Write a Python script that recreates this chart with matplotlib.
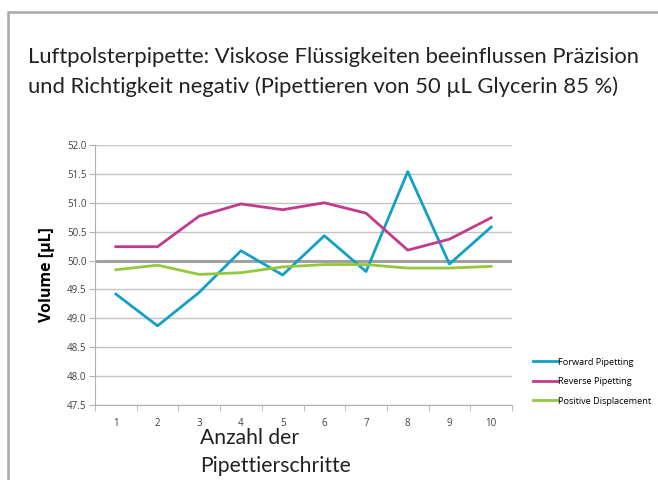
import matplotlib
matplotlib.use('Agg')
import matplotlib.pyplot as plt
from matplotlib.patches import Rectangle

steps = [1, 2, 3, 4, 5, 6, 7, 8, 9, 10]
forward = [49.42, 48.87, 49.45, 50.17, 49.75, 50.43, 49.81, 51.54, 49.94, 50.58]
reverse = [50.24, 50.24, 50.77, 50.98, 50.88, 51.00, 50.82, 50.18, 50.37, 50.74]
positive = [49.84, 49.92, 49.76, 49.79, 49.89, 49.93, 49.93, 49.87, 49.87, 49.90]
yticks = [47.5, 48.0, 48.5, 49.0, 49.5, 50.0, 50.5, 51.0, 51.5, 52.0]

plt.rcParams['font.family'] = ['Open Sans', 'DejaVu Sans']

fig = plt.figure(figsize=(6.58, 4.8), dpi=100)

# grey frame around the whole chart (cut off on the right and bottom)
fig.patches.append(Rectangle((8 / 658, -0.1), 1.2, (480 - 12) / 480 + 0.1,
                             transform=fig.transFigure, fill=False,
                             edgecolor='#a8a8a8', linewidth=1.8))

ax = fig.add_axes([95 / 658, 1 - 405 / 480, 417 / 658, 260 / 480])

x = list(range(len(steps)))
ax.plot(x, forward, color='#12a0c6', lw=2, label='Forward Pipetting', zorder=3)
ax.plot(x, reverse, color='#c23a8c', lw=2, label='Reverse Pipetting', zorder=3)
ax.plot(x, positive, color='#94c83c', lw=2, label='Positive Displacement', zorder=3)

ax.set_xlim(-0.5, len(steps) - 0.5)
ax.set_ylim(47.5, 52.0)
ax.set_yticks(yticks)
ax.set_yticklabels([f'{v:.1f}' for v in yticks], fontsize=7, color='#404040')
ax.set_xticks(x)
ax.set_xticklabels([str(s) for s in steps], fontsize=7, color='#404040')
ax.set_xticks([i - 0.5 for i in range(len(steps) + 1)], minor=True)
ax.tick_params(axis='x', which='major', length=0, pad=9)
ax.tick_params(axis='x', which='minor', length=4, color='#b0b0b0')
ax.tick_params(axis='y', length=4, color='#b0b0b0', pad=2)

ax.grid(axis='y', color='#c4c4c4', lw=1)
ax.axhline(50.0, color='#a0a0a0', lw=2.2, zorder=2)
for side in ['top', 'right']:
    ax.spines[side].set_visible(False)
ax.spines['left'].set_color('#b0b0b0')
ax.spines['bottom'].set_color('#b0b0b0')

ax.set_ylabel('Volume [µL]', fontsize=11.5, fontweight='bold', labelpad=9)

fig.text(28 / 658, 1 - 72 / 480,
         'Luftpolsterpipette: Viskose Flüssigkeiten beeinflussen Präzision\n'
         'und Richtigkeit negativ (Pipettieren von 50 µL Glycerin 85 %)',
         fontsize=15.8, va='center', ha='left', color='#222222', linespacing=1.55,
         fontfamily=['Lato', 'DejaVu Sans'])
fig.text(200 / 658, 1 - 452 / 480, 'Anzahl der\nPipettierschritte',
         fontsize=15.2, va='center', ha='left', color='#222222', linespacing=1.5,
         fontfamily=['Lato', 'DejaVu Sans'])

leg = ax.legend(loc='center left', bbox_to_anchor=(1.03, 0.09), frameon=False,
                handlelength=2.7, handletextpad=0.1, labelspacing=1.15,
                prop={'size': 6.6})

fig.savefig('out.png', dpi=100)
